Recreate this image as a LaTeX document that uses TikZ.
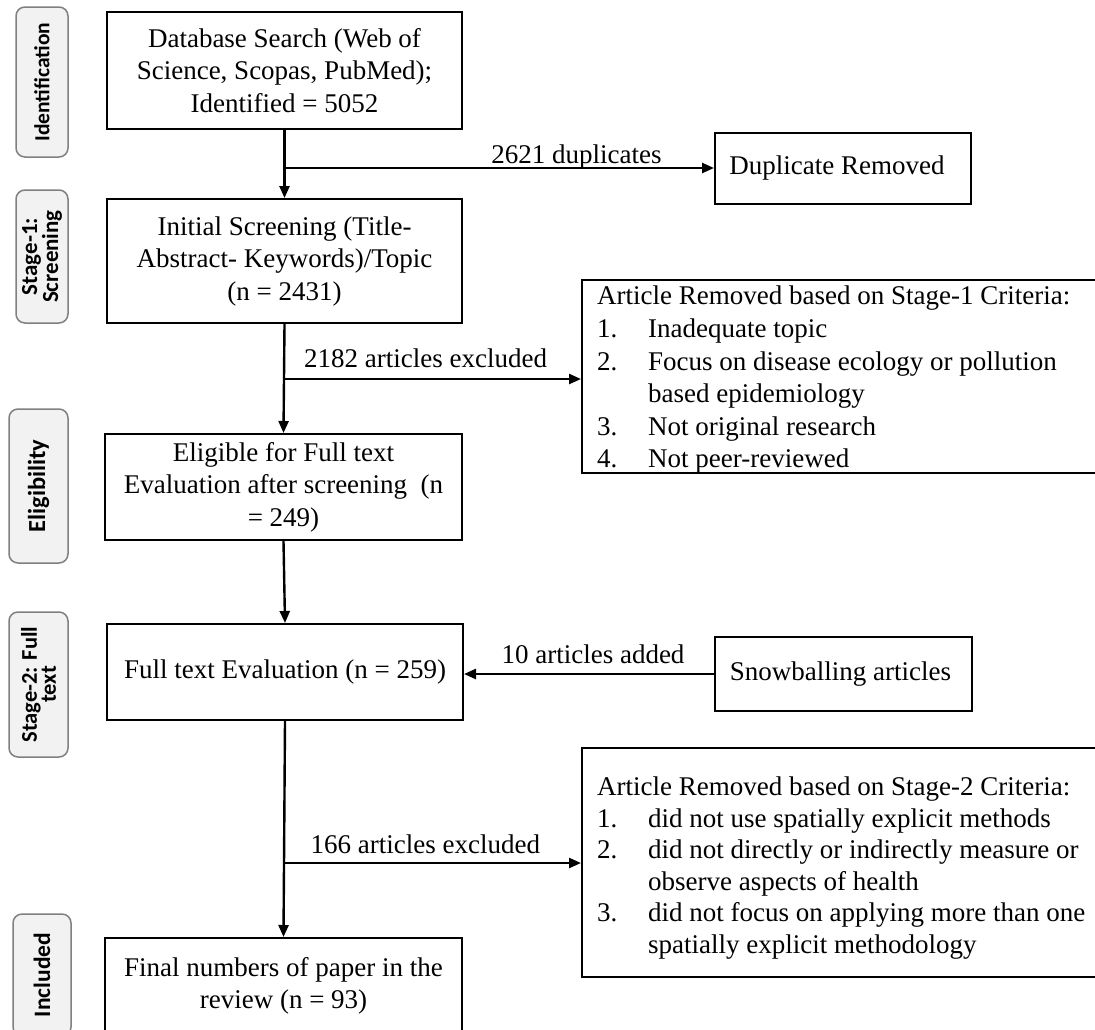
\documentclass[tikz,border=0pt]{standalone}
\usepackage{fontspec}
\setmainfont{Liberation Serif}
\newfontfamily\lblfont{Carlito}
\usetikzlibrary{arrows.meta}
\definecolor{phasefill}{HTML}{F2F2F2}
\definecolor{phasedraw}{HTML}{808080}
\begin{document}
\begin{tikzpicture}[x=1pt,y=-1pt,
  box/.style={draw=black, line width=2pt, align=center, inner sep=0pt,
    font=\fontsize{27}{32.5}\selectfont},
  critbox/.style={draw=black, line width=2pt, inner sep=0pt},
  crittext/.style={align=left, inner sep=0pt},
  phase/.style={draw=phasedraw, fill=phasefill, line width=1.5pt, rounded corners=9pt,
    rotate=90, align=center, inner sep=0pt},
  phasefont/.style={font=\lblfont\bfseries\fontsize{#1}{19}\selectfont},
  arr/.style={line width=2.4pt, -{Triangle[length=12pt,width=10pt]}},
  lbl/.style={anchor=base, inner sep=0pt, font=\fontsize{27}{32.5}\selectfont}
]
\fill[white] (0,0) rectangle (1095,1029);
\useasboundingbox (0,0) rectangle (1095,1029);

% phase labels
\node[phase, phasefont=21.5, minimum width=150pt, minimum height=52pt] (p1) at (42,82) {Identification};
\node[phase, phasefont=23, minimum width=133pt, minimum height=52pt] (p2) at (42,256.5) {Stage-1:\\Screening};
\node[phase, phasefont=24.5, minimum width=154pt, minimum height=59pt] (p3) at (38.5,486) {Eligibility};
\node[phase, phasefont=22.5, minimum width=145pt, minimum height=59pt] (p4) at (38.5,684.5) {Stage-2: Full\\text};
\node[phase, phasefont=23.5, minimum width=122pt, minimum height=58pt] (p5) at (42,975) {Included};

% main boxes
\node[box, minimum width=355pt, minimum height=117pt] (b1) at (284.5,70.5)
  {Database Search (Web of\\Science, Scopas, PubMed);\\Identified = 5052};
\node[box, minimum width=355pt, minimum height=124pt] (b2) at (284.5,261)
  {Initial Screening (Title-\\Abstract- Keywords)/Topic\\(n = 2431)};
\node[box, minimum width=357pt, minimum height=106pt] (b3) at (283.5,487)
  {Eligible for Full text\\Evaluation after screening\ \ (n\\= 249)};
\node[box, minimum width=356pt, minimum height=96pt] (b4) at (285,672)
  {Full text Evaluation (n = 259)};
\node[box, minimum width=357pt, minimum height=96pt] (b5) at (283.5,986)
  {Final numbers of paper in the\\review (n = 93)};
\node[box, minimum width=256pt, minimum height=71pt] (dup) at (843,168.5)
  {Duplicate Removed\hspace*{12pt}};
\node[box, minimum width=257pt, minimum height=74pt] (snow) at (843.5,674)
  {Snowballing articles\hspace*{6pt}};

% criteria boxes
\node[critbox, minimum width=528pt, minimum height=193pt] (c1box) at (846,376.5) {};
\node[crittext, anchor=north west, font=\fontsize{27}{32.6}\selectfont] (c1) at (597,286)
  {Article Removed based on Stage-1 Criteria:\\
   \makebox[51pt][l]{1.}Inadequate topic\\
   \makebox[51pt][l]{2.}Focus on disease ecology or pollution\\
   \hspace*{51pt}based epidemiology\\
   \makebox[51pt][l]{3.}Not original research\\
   \makebox[51pt][l]{4.}Not peer-reviewed};
\node[critbox, minimum width=528pt, minimum height=229pt] (c2box) at (846,862.5) {};
\node[crittext, anchor=north west, font=\fontsize{27}{31.6}\selectfont] (c2) at (597,776.6)
  {Article Removed based on Stage-2 Criteria:\\
   \makebox[51pt][l]{1.}did not use spatially explicit methods\\
   \makebox[51pt][l]{2.}did not directly or indirectly measure or\\
   \hspace*{51pt}observe aspects of health\\
   \makebox[51pt][l]{3.}did not focus on applying more than one\\
   \hspace*{51pt}spatially explicit methodology};

% junctions
\coordinate (j1) at (284.5,168);
\coordinate (j2) at (284.5,379);
\coordinate (j3) at (284.5,863);

% connectors
\draw[arr] (b1.south) -- (b2.north);
\draw[arr] (j1) -- (j1 -| dup.west) node[lbl, pos=0.68, yshift=5pt] {2621 duplicates};
\draw[arr] (b2.south) -- (b3.north);
\draw[arr] (j2) -- (j2 -| c1box.west) node[lbl, pos=0.476, yshift=12pt] {2182 articles excluded};
\draw[arr] (b3.south) -- (b4.north);
\draw[arr] (snow.west) -- (snow.west -| b4.east) node[lbl, pos=0.484, yshift=11pt] {10 articles added};
\draw[arr] (b4.south) -- (b5.north);
\draw[arr] (j3) -- (j3 -| c2box.west) node[lbl, pos=0.475, yshift=10pt] {166 articles excluded};
\end{tikzpicture}
\end{document}
